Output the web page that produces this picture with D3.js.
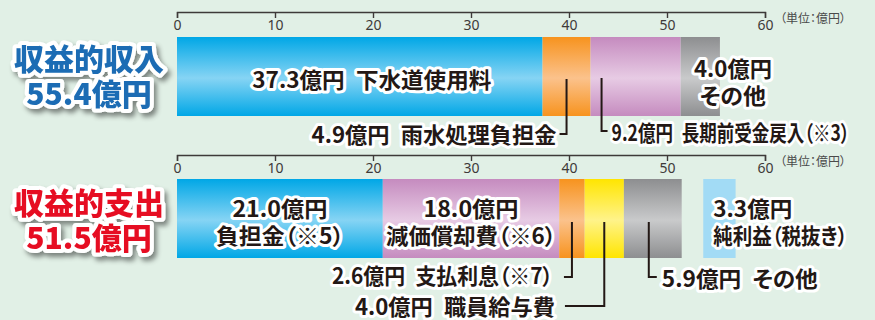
<!DOCTYPE html>
<html><head><meta charset="utf-8">
<script src="https://cdn.jsdelivr.net/npm/d3@7"></script>
<style>
html,body{margin:0;padding:0;background:#e1f0e6;}
svg{display:block;font-family:"Noto Sans CJK JP","Noto Sans",sans-serif;font-feature-settings:"palt";}
</style></head>
<body><svg id="c" width="875" height="320"></svg>
<script>
// ---- data ----
const xDomain = [0, 60];
const tickValues = [0, 10, 20, 30, 40, 50, 60];
const unitLabel = "（単位：億円）";

const incomeTitle = "収益的収入";
const incomeTotal = 55.4;
const incomeCategories = ["下水道使用料", "雨水処理負担金", "長期前受金戻入（※3）", "その他"];
const incomeValues = [37.3, 4.9, 9.2, 4.0];

const expenseTitle = "収益的支出";
const expenseTotal = 51.5;
const expenseCategories = ["負担金（※5）", "減価償却費（※6）", "支払利息（※7）", "職員給与費", "その他"];
const expenseValues = [21.0, 18.0, 2.6, 4.0, 5.9];

const netCategory = "純利益（税抜き）";
const netValue = 3.3;

// ---- styles ----
const incomeColors = [["#00a7e6", "#86d4f4"], ["#f7931e", "#fbc28c"], ["#c58bbf", "#e7cbe4"], ["#8d8e90", "#c9cacb"]];
const expenseColors = [["#00a7e6", "#86d4f4"], ["#c58bbf", "#e7cbe4"], ["#f7931e", "#fbc28c"], ["#ffe500", "#fff38a"], ["#8d8e90", "#c9cacb"]];
const netColor = "#a2dbf5";
const ink = "#231815";
const SP = "\u2002";

const svg = d3.select("#c");
const x = d3.scaleLinear().domain(xDomain).range([177, 765]);
const fmt = d3.format(".1f");
const defs = svg.append("defs");

function grad(id, c) {
  const g = defs.append("linearGradient").attr("id", id).attr("x1", 0).attr("y1", 0).attr("x2", 0).attr("y2", 1);
  g.append("stop").attr("offset", "0%").attr("stop-color", c[0]);
  g.append("stop").attr("offset", "52%").attr("stop-color", c[1]);
  g.append("stop").attr("offset", "100%").attr("stop-color", c[0]);
}
const sh = defs.append("filter").attr("id", "shadow").attr("x", "-20%").attr("y", "-30%").attr("width", "150%").attr("height", "170%");
sh.append("feDropShadow").attr("dx", 3).attr("dy", 4).attr("stdDeviation", 2.5).attr("flood-color", "#000").attr("flood-opacity", 0.45);

function stack(values) {
  let acc = 0;
  return values.map(v => { const s = acc; acc += v; return { start: s, end: acc, value: v, mid: s + v / 2 }; });
}

function axis(y) {
  const g = svg.append("g").attr("transform", `translate(0,${y})`)
    .call(d3.axisBottom(x).tickValues(tickValues).tickSize(6).tickSizeOuter(6).tickPadding(2));
  g.select(".domain").attr("stroke", "#3e3a39").attr("stroke-width", 1.4);
  g.selectAll(".tick line").attr("stroke", "#3e3a39").attr("stroke-width", 1.4);
  g.selectAll(".tick text").attr("fill", "#3e3a39").attr("font-size", 14).attr("font-family", "'Noto Sans','Noto Sans CJK JP',sans-serif");
  svg.append("text").attr("x", x(60) + 15).attr("y", y + 5).attr("dominant-baseline", "central")
    .attr("font-size", 12).attr("fill", "#4a4a4a").text(unitLabel);
}

function label(lines, px, py, anchor, widths) {
  const lh = 27;
  lines.forEach((t, i) => {
    const tx = svg.append("text").attr("x", px).attr("y", py + i * lh).attr("text-anchor", anchor)
      .attr("dominant-baseline", "central").attr("font-size", 22).attr("font-weight", 700)
      .attr("fill", ink).attr("stroke", "#fff").attr("stroke-width", 6).attr("stroke-linejoin", "round")
      .attr("paint-order", "stroke").text(t);
    if (widths && widths[i]) tx.attr("textLength", widths[i]).attr("lengthAdjust", "spacingAndGlyphs");
  });
}
function leader(points) {
  svg.append("path").attr("d", d3.line()(points)).attr("fill", "none").attr("stroke", ink).attr("stroke-width", 2);
}
function title(lines, cx, cy, color) {
  const g = svg.append("g").attr("filter", "url(#shadow)");
  lines.forEach((t, i) => {
    g.append("text").attr("x", cx).attr("y", cy + i * 35).attr("text-anchor", "middle").attr("dominant-baseline", "central")
      .attr("font-size", 30).attr("font-weight", 900).attr("fill", color).attr("stroke", "#fff").attr("stroke-width", 8)
      .attr("stroke-linejoin", "round").attr("paint-order", "stroke").text(t);
  });
}

// ---- income ----
const incAxisY = 12, incTop = 37, barH = 79;
axis(incAxisY);
const inc = stack(incomeValues);
incomeColors.forEach((c, i) => grad("gi" + i, c));
svg.append("g").selectAll("rect").data(inc).join("rect")
  .attr("x", d => x(d.start)).attr("y", incTop).attr("width", d => x(d.end) - x(d.start)).attr("height", barH)
  .attr("fill", (d, i) => `url(#gi${i})`);
title([incomeTitle, fmt(incomeTotal) + "億円"], 89, 57, "#1b6cb4");

label([fmt(inc[0].value) + "億円" + SP + incomeCategories[0]], x(inc[0].mid) + 12, 78, "middle", [239]);
leader([[x(inc[1].mid), incTop + 42], [x(inc[1].mid), 134], [x(inc[1].mid) - 7, 134]]);
label([fmt(inc[1].value) + "億円" + SP + incomeCategories[1]], x(inc[1].mid) - 10, 133, "end", [245]);
leader([[x(inc[2].start) + 11, incTop + 41], [x(inc[2].start) + 11, 131], [x(inc[2].start) + 17, 131]]);
label([fmt(inc[2].value) + "億円" + SP + incomeCategories[2]], x(inc[2].start) + 21, 131, "start", [238]);
label([fmt(inc[3].value) + "億円", incomeCategories[3]], x(inc[3].end) + 13, 67, "middle", [78, 66]);

// ---- expense ----
const expAxisY = 155, expTop = 179;
axis(expAxisY);
const exp = stack(expenseValues);
expenseColors.forEach((c, i) => grad("ge" + i, c));
svg.append("g").selectAll("rect").data(exp).join("rect")
  .attr("x", d => x(d.start)).attr("y", expTop).attr("width", d => x(d.end) - x(d.start)).attr("height", barH)
  .attr("fill", (d, i) => `url(#ge${i})`);
const netGap = 2.2;
const netStart = expenseTotal + netGap;
svg.append("rect").attr("x", x(netStart)).attr("y", expTop).attr("width", x(netStart + netValue) - x(netStart))
  .attr("height", barH).attr("fill", netColor);
title([expenseTitle, fmt(expenseTotal) + "億円"], 89, 201, "#e60f24");

label([fmt(exp[0].value) + "億円", expenseCategories[0]], x(exp[0].mid), 207, "middle", [95, 128]);
label([fmt(exp[1].value) + "億円", expenseCategories[1]], x(exp[1].mid), 207, "middle", [95, 170]);
leader([[x(exp[2].mid), expTop + 43], [x(exp[2].mid), 277], [x(exp[2].mid) - 8, 277]]);
label([fmt(exp[2].value) + "億円" + SP + expenseCategories[2]], x(exp[2].mid) - 19, 274, "end", [221]);
leader([[x(exp[3].mid), expTop + 43], [x(exp[3].mid), 306], [x(exp[2].mid) - 7, 306]]);
label([fmt(exp[3].value) + "億円" + SP + expenseCategories[3]], x(exp[2].mid) - 17, 305, "end", [200]);
leader([[x(exp[4].mid) - 4, expTop + 43], [x(exp[4].mid) - 4, 277], [x(exp[4].mid) + 4, 277]]);
label([fmt(exp[4].value) + "億円" + SP + expenseCategories[4]], x(exp[4].mid) + 9, 277, "start", [156]);
label([fmt(netValue) + "億円", netCategory], x(netStart) + 10, 207, "start", [79, 134]);
</script></body></html>
